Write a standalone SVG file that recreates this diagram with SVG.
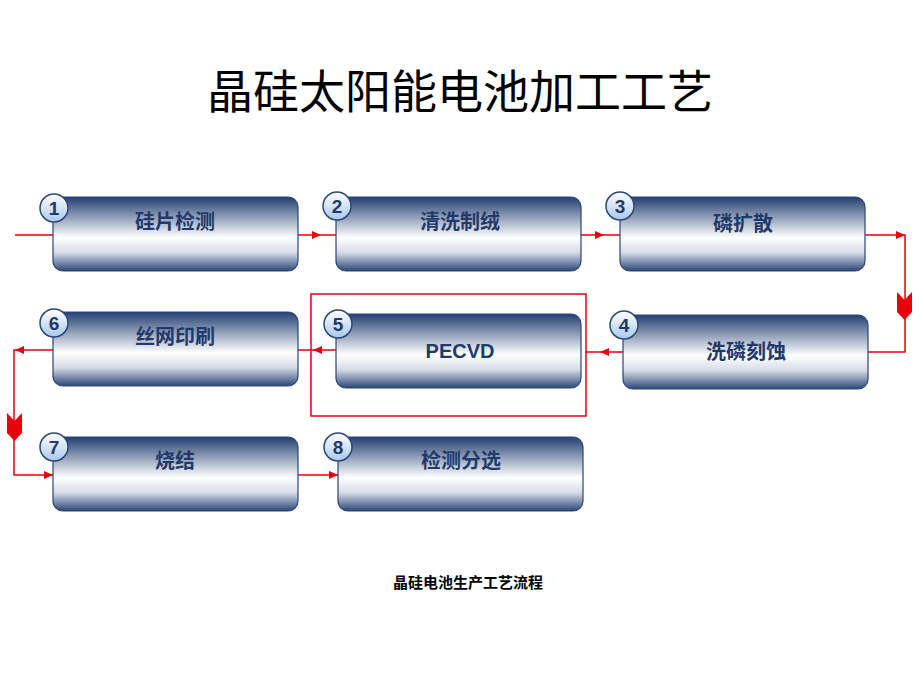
<svg xmlns="http://www.w3.org/2000/svg" xmlns:xlink="http://www.w3.org/1999/xlink" width="920" height="690" viewBox="0 0 920 690">
<style>
.box{fill:url(#g);stroke:#2a4778;stroke-width:1.2}
.lbl{font-family:"Liberation Sans","Noto Sans CJK SC",sans-serif;font-size:20px;font-weight:bold;fill:#1f3a6b;text-anchor:middle}
.num{font-family:"Liberation Sans",sans-serif;font-size:19px;font-weight:bold;fill:#1f3a6b;text-anchor:middle}
.cir{fill:url(#cg);stroke:#2a4778;stroke-width:1.5}
.ln{fill:none;stroke:#e8000b;stroke-width:1.5}
.ar{fill:#e8000b}
</style>
<defs>
<linearGradient id="g" x1="0" y1="0" x2="0" y2="1">
<stop offset="0" stop-color="#243f72"/>
<stop offset="0.55" stop-color="#ffffff"/>
<stop offset="0.75" stop-color="#d7dbe6"/>
<stop offset="1" stop-color="#2a4778"/>
</linearGradient>
<linearGradient id="cg" x1="0" y1="0" x2="0" y2="1">
<stop offset="0" stop-color="#ffffff"/>
<stop offset="1" stop-color="#a9c8ee"/>
</linearGradient>
<polygon id="ar" points="0,0 -9,-4 -9,4"/>
<polygon id="chev" points="-7.5,0 0,8 7.5,0 7.5,20 0,28 -7.5,20"/>
</defs>
<text x="460" y="108" font-family="'Noto Sans CJK SC',sans-serif" font-size="46" text-anchor="middle" fill="#000">晶硅太阳能电池加工工艺</text>
<g id="connectors">
<path class="ln" d="M15,235H53M298,235H336M581,235H620M865,235H905V352H868M623,352H586M336,350H298M53,350H14V475H53M298,475H338"/>
<use href="#ar" class="ar" x="321" y="235"/>
<use href="#ar" class="ar" x="604" y="235"/>
<use href="#ar" class="ar" x="905" y="235"/>
<use href="#chev" class="ar" x="904.5" y="292"/>
<use href="#ar" class="ar" transform="translate(600,352) rotate(180)"/>
<use href="#ar" class="ar" transform="translate(313,350) rotate(180)"/>
<use href="#ar" class="ar" transform="translate(15,350) rotate(180)"/>
<use href="#chev" class="ar" x="14.5" y="413"/>
<use href="#ar" class="ar" x="53" y="475"/>
<use href="#ar" class="ar" x="338" y="475"/>
<rect x="311" y="294" width="275" height="122" fill="none" stroke="#e8000b" stroke-width="1.5"/>
</g>
<g id="n1"><rect class="box" x="53" y="197" width="245" height="74" rx="10"/><circle class="cir" cx="54" cy="208" r="14"/><text class="num" x="54" y="215">1</text><text class="lbl" x="175" y="229">硅片检测</text></g>
<g id="n2"><rect class="box" x="336" y="197" width="245" height="74" rx="10"/><circle class="cir" cx="337" cy="206" r="14"/><text class="num" x="337" y="213">2</text><text class="lbl" x="460" y="229">清洗制绒</text></g>
<g id="n3"><rect class="box" x="620" y="197" width="245" height="74" rx="10"/><circle class="cir" cx="620" cy="206" r="14"/><text class="num" x="620" y="213">3</text><text class="lbl" x="743" y="231">磷扩散</text></g>
<g id="n4"><rect class="box" x="623" y="315" width="245" height="74" rx="10"/><circle class="cir" cx="624" cy="325" r="14"/><text class="num" x="624" y="332">4</text><text class="lbl" x="746" y="359">洗磷刻蚀</text></g>
<g id="n5"><rect class="box" x="336" y="314" width="245" height="74" rx="10"/><circle class="cir" cx="338" cy="324" r="14"/><text class="num" x="338" y="331">5</text><text class="lbl" x="460" y="358">PECVD</text></g>
<g id="n6"><rect class="box" x="53" y="312" width="245" height="74" rx="10"/><circle class="cir" cx="54" cy="323" r="14"/><text class="num" x="54" y="330">6</text><text class="lbl" x="175" y="344">丝网印刷</text></g>
<g id="n7"><rect class="box" x="53" y="437" width="245" height="74" rx="10"/><circle class="cir" cx="54" cy="447" r="14"/><text class="num" x="54" y="454">7</text><text class="lbl" x="175" y="468">烧结</text></g>
<g id="n8"><rect class="box" x="338" y="437" width="245" height="74" rx="10"/><circle class="cir" cx="338" cy="447" r="14"/><text class="num" x="338" y="454">8</text><text class="lbl" x="461" y="468">检测分选</text></g>
<text x="468" y="588" font-family="'Noto Sans CJK SC',sans-serif" font-size="15" font-weight="bold" text-anchor="middle" fill="#000">晶硅电池生产工艺流程</text>
</svg>
